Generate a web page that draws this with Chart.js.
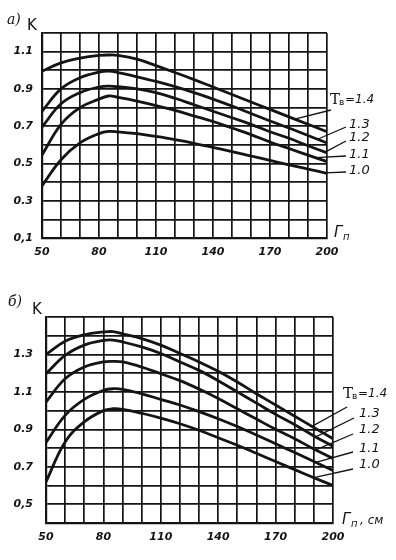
<!DOCTYPE html>
<html>
<head>
<meta charset="utf-8">
<script src="https://cdn.jsdelivr.net/npm/chart.js@4"></script>
<style>
  html, body { margin: 0; padding: 0; background: #fff; }
  #wrap { position: relative; width: 396px; height: 560px; }
  .box { position: absolute; left: 0; width: 396px; }
  #boxA { top: 0; height: 272px; }
  #boxB { top: 280px; height: 280px; }
</style>
</head>
<body>
<div id="wrap">
  <div class="box" id="boxA"><canvas id="chartA"></canvas></div>
  <div class="box" id="boxB"><canvas id="chartB"></canvas></div>
</div>
<script>
// Г_п values (x) shared by every curve
const xVals = [50, 60, 70, 80, 85, 90, 100, 110, 120, 130, 140, 150, 160, 170, 180, 190, 200];
const seriesNames = ['1.4', '1.3', '1.2', '1.1', '1.0'];

// panel а) K values
const kA14 = [0.995, 1.04, 1.065, 1.08, 1.082, 1.08, 1.06, 1.025, 0.988, 0.95, 0.91, 0.87, 0.83, 0.79, 0.75, 0.71, 0.67];
const kA13 = [0.78, 0.90, 0.96, 0.99, 0.995, 0.988, 0.965, 0.94, 0.912, 0.88, 0.845, 0.808, 0.768, 0.728, 0.69, 0.65, 0.61];
const kA12 = [0.695, 0.82, 0.88, 0.91, 0.915, 0.912, 0.90, 0.88, 0.85, 0.815, 0.78, 0.745, 0.71, 0.67, 0.635, 0.595, 0.557];
const kA11 = [0.545, 0.71, 0.80, 0.845, 0.862, 0.855, 0.835, 0.81, 0.785, 0.755, 0.725, 0.69, 0.655, 0.615, 0.58, 0.545, 0.51];
const kA10 = [0.38, 0.52, 0.61, 0.66, 0.672, 0.67, 0.66, 0.645, 0.628, 0.608, 0.586, 0.564, 0.54, 0.516, 0.492, 0.47, 0.447];

// panel б) K values
const kB14 = [1.30, 1.37, 1.405, 1.42, 1.422, 1.41, 1.385, 1.35, 1.305, 1.26, 1.21, 1.153, 1.09, 1.03, 0.97, 0.91, 0.85];
const kB13 = [1.197, 1.295, 1.35, 1.375, 1.377, 1.367, 1.34, 1.305, 1.26, 1.215, 1.16, 1.10, 1.04, 0.98, 0.925, 0.865, 0.81];
const kB12 = [1.046, 1.17, 1.233, 1.26, 1.263, 1.26, 1.233, 1.197, 1.16, 1.115, 1.065, 1.01, 0.955, 0.90, 0.85, 0.795, 0.745];
const kB11 = [0.83, 0.975, 1.06, 1.108, 1.117, 1.114, 1.09, 1.06, 1.03, 0.995, 0.957, 0.915, 0.87, 0.823, 0.776, 0.728, 0.68];
const kB10 = [0.62, 0.833, 0.94, 1.0, 1.01, 1.007, 0.986, 0.96, 0.93, 0.895, 0.855, 0.815, 0.772, 0.728, 0.685, 0.642, 0.60];

// axes
const xTicks = [50, 60, 70, 80, 90, 100, 110, 120, 130, 140, 150, 160, 170, 180, 190, 200];
const xLabels = [50, 80, 110, 140, 170, 200];
const yTicksA = [0.1, 0.2, 0.3, 0.4, 0.5, 0.6, 0.7, 0.8, 0.9, 1.0, 1.1, 1.2];
const yLabelsA = ['0,1', '', '0.3', '', '0.5', '', '0.7', '', '0.9', '', '1.1', ''];
const yTicksB = [0.4, 0.5, 0.6, 0.7, 0.8, 0.9, 1.0, 1.1, 1.2, 1.3, 1.4, 1.5];
const yLabelsB = ['', '0,5', '', '0.7', '', '0.9', '', '1.1', '', '1.3', '', ''];

const INK = '#141414';
const tickFont = { family: 'DejaVu Sans', size: 11, style: 'italic', weight: 'bold' };

function valueAt(ys, v) {
    for (let i = 1; i < xVals.length; i++) {
        if (v <= xVals[i]) {
            const t = (v - xVals[i - 1]) / (xVals[i] - xVals[i - 1]);
            return ys[i - 1] + t * (ys[i] - ys[i - 1]);
        }
    }
    return ys[ys.length - 1];
}

// titles, curve labels and leader lines
function notesPlugin(cfg) {
    return {
        id: 'notes',
        afterDraw(chart) {
            const ctx = chart.ctx;
            const xs = chart.scales.x, ys = chart.scales.y;
            ctx.save();
            ctx.fillStyle = INK;
            ctx.strokeStyle = INK;
            ctx.textBaseline = 'middle';
            ctx.textAlign = 'left';

            ctx.font = 'italic 14px "DejaVu Serif"';
            ctx.fillText(cfg.panel, cfg.panelPos[0], cfg.panelPos[1]);
            ctx.font = '15px "DejaVu Sans"';
            ctx.fillText('K', cfg.kPos[0], cfg.kPos[1]);

            // axis name Г_п
            ctx.font = 'italic 15px "DejaVu Sans"';
            ctx.fillText('Г', cfg.axPos[0], cfg.axPos[1]);
            ctx.font = 'italic 10px "DejaVu Sans"';
            ctx.fillText('п', cfg.axPos[0] + 9, cfg.axPos[1] + 4);
            if (cfg.unit) {
                ctx.font = 'italic 12px "DejaVu Sans"';
                ctx.fillText(cfg.unit, cfg.axPos[0] + 18, cfg.axPos[1] + 1);
            }

            ctx.lineWidth = 1.3;
            cfg.labels.forEach((lb, i) => {
                const vals = cfg.series[i];
                const px = xs.getPixelForValue(lb.at);
                const py = ys.getPixelForValue(valueAt(vals, lb.at));
                ctx.beginPath();
                ctx.moveTo(lb.from[0], lb.from[1]);
                ctx.lineTo(px, py);
                ctx.stroke();

                const x = lb.pos[0];
                if (i === 0) {
                    ctx.font = '15px "DejaVu Serif"';
                    ctx.fillText('Т', x, lb.pos[1]);
                    ctx.font = '9px "DejaVu Sans"';
                    ctx.fillText('в', x + 9, lb.pos[1] + 3);
                    ctx.font = 'italic 12px "DejaVu Sans"';
                    ctx.fillText('=' + seriesNames[i], x + 15, lb.pos[1]);
                } else {
                    ctx.font = 'italic 13px "DejaVu Sans"';
                    ctx.fillText(seriesNames[i], x, lb.pos[1]);
                }
            });
            ctx.restore();
        }
    };
}

function makeChart(id, series, yTicks, yLabels, frame, notes) {
    const datasets = series.map((vals, i) => ({
        label: seriesNames[i],
        data: xVals.map((x, j) => ({ x: x, y: vals[j] })),
        borderColor: INK,
        borderWidth: 2.8,
        pointRadius: 0,
        fill: false,
        tension: 0.4
    }));
    notes.series = series;
    return new Chart(document.getElementById(id), {
        type: 'line',
        data: { datasets: datasets },
        options: {
            responsive: true,
            maintainAspectRatio: false,
            animation: false,
            layout: { padding: { top: frame.top, right: frame.right, left: 0, bottom: 0 } },
            plugins: { legend: { display: false }, tooltip: { enabled: false } },
            scales: {
                x: {
                    type: 'linear',
                    min: 50,
                    max: 200,
                    afterBuildTicks: s => { s.ticks = xTicks.map(v => ({ value: v })); },
                    afterFit: s => { s.height = frame.xh; },
                    grid: { color: INK, lineWidth: 1.7, drawTicks: false },
                    border: { color: INK, width: 2.2 },
                    ticks: {
                        autoSkip: false,
                        maxRotation: 0,
                        padding: 8,
                        color: INK,
                        font: tickFont,
                        callback: v => xLabels.includes(v) ? String(v) : ''
                    }
                },
                y: {
                    type: 'linear',
                    min: yTicks[0],
                    max: yTicks[yTicks.length - 1],
                    afterBuildTicks: s => { s.ticks = yTicks.map(v => ({ value: v })); },
                    afterFit: s => { s.width = frame.yw; },
                    grid: { color: INK, lineWidth: 1.7, drawTicks: false },
                    border: { color: INK, width: 2.2 },
                    ticks: {
                        autoSkip: false,
                        padding: frame.ypad,
                        color: INK,
                        font: tickFont,
                        callback: (v, i) => yLabels[i]
                    }
                }
            }
        },
        plugins: [notesPlugin(notes)]
    });
}

makeChart('chartA', [kA14, kA13, kA12, kA11, kA10], yTicksA, yLabelsA,
    { top: 33, right: 69, xh: 34, yw: 42, ypad: 9 },
    {
        panel: 'а)', panelPos: [7, 20], kPos: [27, 26], axPos: [334, 233], unit: '',
        labels: [
            { pos: [330, 100], from: [331, 110], at: 183 },
            { pos: [349, 125], from: [346, 127], at: 195 },
            { pos: [349, 138], from: [346, 141], at: 199 },
            { pos: [349, 155], from: [346, 156], at: 194 },
            { pos: [349, 171], from: [346, 172], at: 199 }
        ]
    });

makeChart('chartB', [kB14, kB13, kB12, kB11, kB10], yTicksB, yLabelsB,
    { top: 37, right: 63, xh: 37, yw: 46, ypad: 13 },
    {
        panel: 'б)', panelPos: [8, 22], kPos: [32, 30], axPos: [342, 240], unit: ', см',
        labels: [
            { pos: [343, 114], from: [347, 127], at: 189 },
            { pos: [359, 134], from: [354, 138], at: 191 },
            { pos: [359, 150], from: [353, 154], at: 191 },
            { pos: [359, 169], from: [353, 172], at: 191 },
            { pos: [359, 185], from: [353, 189], at: 190 }
        ]
    });
</script>
</body>
</html>
